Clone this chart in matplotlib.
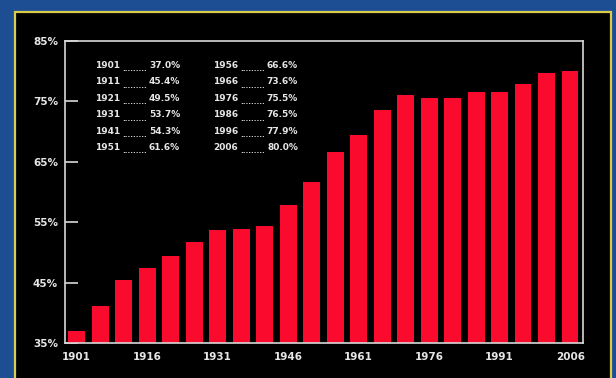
import matplotlib.pyplot as plt
from matplotlib.patches import Rectangle

# census years and urban share (%)
years = [1901, 1906, 1911, 1916, 1921, 1926, 1931, 1936, 1941, 1946, 1951,
         1956, 1961, 1966, 1971, 1976, 1981, 1986, 1991, 1996, 2001, 2006]
share = [37.0, 41.2, 45.4, 47.5, 49.5, 51.7, 53.7, 53.9, 54.3, 57.9, 61.6,
         66.6, 69.5, 73.6, 76.1, 75.5, 75.6, 76.5, 76.6, 77.9, 79.6, 80.0]

# years listed in the legend block
left_years = [1901, 1911, 1921, 1931, 1941, 1951]
right_years = [1956, 1966, 1976, 1986, 1996, 2006]

y_ticks = [35, 45, 55, 65, 75, 85]
x_ticks = [1901, 1916, 1931, 1946, 1961, 1976, 1991, 2006]

FONT = ['Liberation Sans Narrow', 'DejaVu Sans']
TXT = '#e6e6e6'
plt.rcParams['font.family'] = FONT
plt.rcParams['font.weight'] = 'bold'

fig = plt.figure(figsize=(6.16, 3.78), dpi=100)
fig.patch.set_facecolor('#1d4e93')

# black panel with yellow frame
W, H = 616, 378
fig.patches.append(Rectangle((15 / W, -0.05), (611 - 15) / W, 1.05 - 12 / H,
                             transform=fig.transFigure, facecolor='black',
                             edgecolor='#d9cc4a', linewidth=1.6, zorder=-1))

ax = fig.add_axes([65 / W, (H - 343.3) / H, (583.3 - 65) / W, (343.3 - 40.7) / H])
ax.set_zorder(2)
ax.set_facecolor('black')

ax.bar(years, share, width=3.55, bottom=0, color='#fa0a2d', zorder=2)

ax.set_xlim(1898.5, 2008.8)
ax.set_ylim(35, 85)

ax.set_yticks(y_ticks)
ax.set_yticklabels([f'{v}%' for v in y_ticks])
ax.set_xticks(x_ticks)
ax.set_xticklabels([str(y) for y in x_ticks])

ax.tick_params(axis='y', direction='in', length=9, width=1.2, color='#d8d8d8',
               colors=TXT, labelsize=7.5, pad=5)
ax.tick_params(axis='x', length=0, colors=TXT, labelsize=7.5, pad=6)
for lab in ax.get_xticklabels() + ax.get_yticklabels():
    lab.set_fontweight('bold')

for s in ax.spines.values():
    s.set_color('#d8d8d8')
    s.set_linewidth(1.2)

# value list in the top-left corner
lookup = dict(zip(years, share))
row_top, row_step = 0.918, 0.0544
for col, col_years in enumerate([left_years, right_years]):
    x_year = 0.058 + col * 0.2275
    x_val = 0.222 + col * 0.2275
    for i, yr in enumerate(col_years):
        yy = row_top - i * row_step
        ax.text(x_year, yy, str(yr), transform=ax.transAxes, color=TXT,
                fontsize=6.5, fontweight='bold', ha='left', va='center')
        ax.text((x_year + x_val) / 2 - 0.006, yy - 0.012, '.........',
                transform=ax.transAxes, color=TXT, fontsize=5,
                ha='center', va='center')
        ax.text(x_val, yy, f'{lookup[yr]:.1f}%', transform=ax.transAxes,
                color=TXT, fontsize=6.5, fontweight='bold', ha='right', va='center')

fig.savefig('out.png', dpi=100, facecolor=fig.get_facecolor())
